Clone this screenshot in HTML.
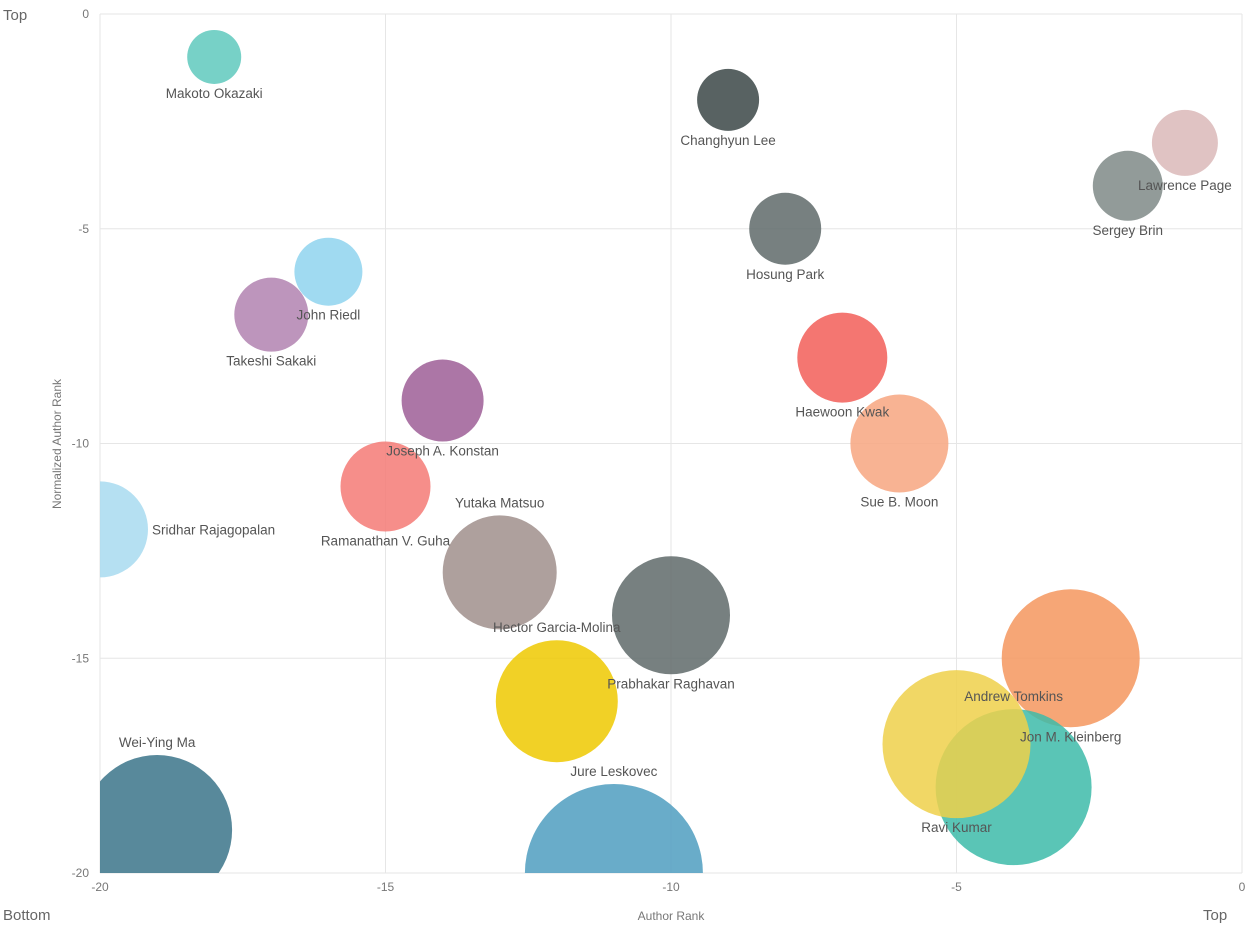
<!DOCTYPE html>
<html><head><meta charset="utf-8">
<style>
body{margin:0;background:#fff;font-family:"Liberation Sans",sans-serif;}
svg text{font-family:"Liberation Sans",sans-serif;}
</style></head>
<body>
<svg id="chart" width="1250" height="930" xmlns="http://www.w3.org/2000/svg">
<defs><clipPath id="plotclip"><rect x="100" y="14" width="1142" height="859"/></clipPath></defs>
<g id="grid"></g>
<g id="ticks"></g>
<g id="bubbles" clip-path="url(#plotclip)"></g>
<g id="labels"></g>
<text x="3" y="20" font-size="15" fill="#666">Top</text>
<text x="3" y="920" font-size="15" fill="#666">Bottom</text>
<text x="1203" y="920" font-size="15" fill="#666">Top</text>
<text x="671" y="920" font-size="12" fill="#777" text-anchor="middle">Author Rank</text>
<text transform="translate(61,444) rotate(-90)" font-size="12" fill="#777" text-anchor="middle">Normalized Author Rank</text>
</svg>
<script>
const names=["Makoto Okazaki","Changhyun Lee","Lawrence Page","Sergey Brin","Hosung Park","John Riedl","Takeshi Sakaki","Haewoon Kwak","Joseph A. Konstan","Sue B. Moon","Sridhar Rajagopalan","Ramanathan V. Guha","Yutaka Matsuo","Prabhakar Raghavan","Hector Garcia-Molina","Wei-Ying Ma","Jure Leskovec","Jon M. Kleinberg","Andrew Tomkins","Ravi Kumar"];
const xVals=[-18,-9,-1,-2,-8,-16,-17,-7,-14,-6,-20,-15,-13,-10,-12,-19,-11,-3,-4,-5];
const yVals=[-1,-2,-3,-4,-5,-6,-7,-8,-9,-10,-12,-11,-13,-14,-16,-19,-20,-15,-18,-17];
const sizes=[27,31,33,35,36,34,37,45,41,49,48,45,57,59,61,75,89,69,78,74];
const colors=["#5fc9bd","#3b4646","#dbb8b9","#7f8a87","#5f6a6a","#8fd3ee","#b283b0","#f25e58","#9d5e96","#f7a680","#a8dbf0","#f47a76","#a08f8c","#5f6a6a","#eec900","#3b7489","#4f9ec0","#f5965e","#3dbba9","#eed04a"];
const labelPos=["below","below","below","below","below","below","below","below","below","below","right","below","above","below","above","above","above","below","above","below"];
const xTicks=[-20,-15,-10,-5,0];
const yTicks=[0,-5,-10,-15,-20];
const X=v=>100+(v+20)*(1142/20);
const Y=v=>14-v*(859/20);
const NS="http://www.w3.org/2000/svg";
const grid=document.getElementById('grid'),ticks=document.getElementById('ticks'),bub=document.getElementById('bubbles'),lab=document.getElementById('labels');
function mk(tag,attrs,parent){const e=document.createElementNS(NS,tag);for(const k in attrs)e.setAttribute(k,attrs[k]);parent.appendChild(e);return e;}
xTicks.forEach(t=>{
 const l=mk('line',{x1:X(t),x2:X(t),y1:14,y2:873,stroke:"#e6e6e6"},grid);
 
 
 const tx=mk('text',{x:X(t),y:891,"font-size":12,fill:"#777","text-anchor":"middle"},ticks);
 tx.textContent=t;
 
 
});
yTicks.forEach(t=>{
 const l=mk('line',{x1:100,x2:1242,y1:Y(t),y2:Y(t),stroke:"#e6e6e6"},grid);
 
 
 const tx=mk('text',{x:89,y:Y(t)+4,"font-size":12,fill:"#777","text-anchor":"end"},ticks);
 tx.textContent=t;
 
 
});
names.forEach((n,i)=>{
 const cx=X(xVals[i]),cy=Y(yVals[i]),r=sizes[i];
 const c=mk('circle',{cx:cx,cy:cy,r:r,fill:colors[i],"fill-opacity":0.85},bub);
 
 
 let lx=cx,ly=cy,anchor="middle";
 if(labelPos[i]==="below")ly=cy+r+14;
 else if(labelPos[i]==="above")ly=cy-r-8;
 else if(labelPos[i]==="right"){lx=cx+r+4;ly=cy+5;anchor="start";}
 const t=mk('text',{x:lx,y:ly,"font-size":13.5,fill:"#555","text-anchor":anchor},lab);
 t.textContent=n;
 
 
});
</script>
</body></html>
